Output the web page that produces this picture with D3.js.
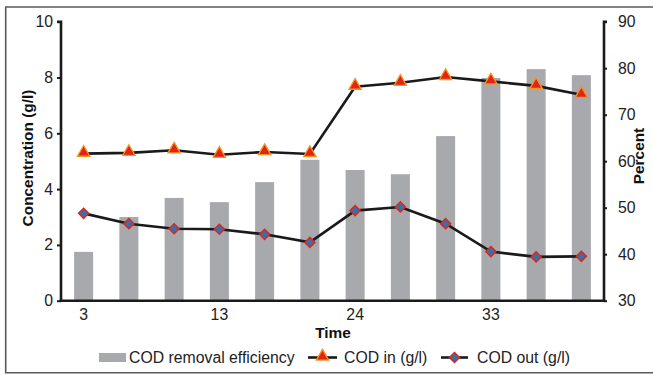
<!DOCTYPE html>
<html>
<head>
<meta charset="utf-8">
<script src="https://cdn.jsdelivr.net/npm/d3@7"></script>
<style>
  html, body { margin: 0; padding: 0; background: #fff; }
  svg { display: block; font-family: "Liberation Sans", Arial, Helvetica, sans-serif; }
</style>
</head>
<body>
<svg id="chart" width="653" height="375"></svg>
<script>
// ---- data ----
const xLabels = ["3", "", "", "13", "", "", "24", "", "", "33", "", ""];
const removalEfficiency = [40.5, 48.0, 52.1, 51.2, 55.5, 60.3, 58.1, 57.2, 65.4, 77.9, 79.8, 78.5];
const codIn = [5.27, 5.30, 5.39, 5.23, 5.33, 5.26, 7.67, 7.81, 8.02, 7.86, 7.70, 7.38];
const codOut = [3.13, 2.76, 2.58, 2.56, 2.38, 2.09, 3.23, 3.36, 2.76, 1.76, 1.57, 1.59];
const leftTicks = [0, 2, 4, 6, 8, 10];
const rightTicks = [30, 40, 50, 60, 70, 80, 90];
const seriesNames = ["COD removal efficiency", "COD in (g/l)", "COD out (g/l)"];

const svg = d3.select("#chart");
const m = { left: 61, right: 604, top: 21.7, bottom: 300.7 };

// outer frame
svg.append("path")
  .attr("d", `M660,7 H5.7 V372.7 H660`)
  .attr("fill", "none").attr("stroke", "#5a5a5a").attr("stroke-width", 1.6);

const idx = d3.range(xLabels.length);
const x = d3.scaleBand().domain(idx).range([m.left, m.right]).paddingInner(0.58).paddingOuter(0.29);
const xc = i => x(i) + x.bandwidth() / 2;
const yL = d3.scaleLinear().domain([0, 10]).range([m.bottom, m.top]);
const yR = d3.scaleLinear().domain([30, 90]).range([m.bottom, m.top]);

// bars
svg.append("g").selectAll("rect").data(removalEfficiency).join("rect")
  .attr("x", (d, i) => x(i))
  .attr("width", x.bandwidth())
  .attr("y", d => yR(d))
  .attr("height", d => yR(30) - yR(d))
  .attr("fill", "#a7a9ac");

// axes
const fontSize = 15.8;
const leftAxis = svg.append("g").attr("transform", `translate(${m.left},0)`)
  .call(d3.axisLeft(yL).tickValues(leftTicks).tickSize(4).tickPadding(4).tickFormat(d3.format("d")));
const rightAxis = svg.append("g").attr("transform", `translate(${m.right},0)`)
  .call(d3.axisRight(yR).tickValues(rightTicks).tickSize(3).tickPadding(11).tickFormat(d3.format("d")));
const bottomAxis = svg.append("g").attr("transform", `translate(0,${m.bottom})`)
  .call(d3.axisBottom(x).tickSize(0).tickPadding(8).tickFormat(i => xLabels[i]));
[leftAxis, rightAxis, bottomAxis].forEach(g => {
  g.selectAll("path.domain").attr("stroke", "#1a1a1a").attr("stroke-width", 2.6);
  g.selectAll(".tick line").attr("stroke", "#1a1a1a").attr("stroke-width", 2);
  g.selectAll(".tick text").attr("fill", "#222").attr("font-size", fontSize)
    .attr("font-family", "'Liberation Sans', Arial, sans-serif");
});
bottomAxis.select("path.domain").attr("d", `M${m.left - 1.3},0H${m.right + 1.3}`);
leftAxis.select("path.domain").attr("d", `M-4,${m.top}H0V${m.bottom + 1.3}`);
rightAxis.select("path.domain").attr("d", `M3,${m.top}H0V${m.bottom + 1.3}`);

// lines
const lineL = d3.line().x((d, i) => xc(i)).y(d => yL(d));
svg.append("path").datum(codIn).attr("d", lineL)
  .attr("fill", "none").attr("stroke", "#1a1a1a").attr("stroke-width", 2.6);
svg.append("path").datum(codOut).attr("d", lineL)
  .attr("fill", "none").attr("stroke", "#1a1a1a").attr("stroke-width", 2.6);

const tri = d3.symbol().type(d3.symbolTriangle).size(66);
const dia = d3.symbol().type(d3.symbolSquare).size(52);

svg.append("g").selectAll("path").data(codIn).join("path")
  .attr("d", tri)
  .attr("transform", (d, i) => `translate(${xc(i)},${yL(d) - 1})`)
  .attr("fill", "#e2231a").attr("stroke", "#f7941d").attr("stroke-width", 1.3);

svg.append("g").selectAll("path").data(codOut).join("path")
  .attr("d", dia)
  .attr("transform", (d, i) => `translate(${xc(i)},${yL(d)}) rotate(45)`)
  .attr("fill", "#3a6ea5").attr("stroke", "#e2231a").attr("stroke-width", 1.4);

// axis titles
const bold = { "font-size": 15.4, "font-weight": "bold", "fill": "#111" };
function styleText(t, o) { Object.entries(o).forEach(([k, v]) => t.attr(k, v)); return t; }
styleText(svg.append("text").text("Time")
  .attr("x", 333).attr("y", 338).attr("text-anchor", "middle"), bold);
styleText(svg.append("text").text("Concentration (g/l)")
  .attr("transform", "translate(33,158) rotate(-90)").attr("text-anchor", "middle"), bold);
styleText(svg.append("text").text("Percent")
  .attr("transform", "translate(644,156) rotate(-90)").attr("text-anchor", "middle"), bold);

// legend
const lg = svg.append("g");
const ly = 357.5;
lg.append("rect").attr("x", 99).attr("y", ly - 4.5).attr("width", 27).attr("height", 9).attr("fill", "#a7a9ac");
lg.append("text").text(seriesNames[0]).attr("x", 129).attr("y", ly + 5.6)
  .attr("font-size", fontSize).attr("fill", "#222");

lg.append("line").attr("x1", 308).attr("x2", 337).attr("y1", ly).attr("y2", ly)
  .attr("stroke", "#1a1a1a").attr("stroke-width", 2.6);
lg.append("path").attr("d", tri).attr("transform", `translate(322.5,${ly - 1})`)
  .attr("fill", "#e2231a").attr("stroke", "#f7941d").attr("stroke-width", 1.3);
lg.append("text").text(seriesNames[1]).attr("x", 344).attr("y", ly + 5.6)
  .attr("font-size", fontSize).attr("fill", "#222");

lg.append("line").attr("x1", 441).attr("x2", 468).attr("y1", ly).attr("y2", ly)
  .attr("stroke", "#1a1a1a").attr("stroke-width", 2.6);
lg.append("path").attr("d", dia).attr("transform", `translate(454.5,${ly}) rotate(45)`)
  .attr("fill", "#3a6ea5").attr("stroke", "#e2231a").attr("stroke-width", 1.4);
lg.append("text").text(seriesNames[2]).attr("x", 477).attr("y", ly + 5.6)
  .attr("font-size", fontSize).attr("fill", "#222");
</script>
</body>
</html>
